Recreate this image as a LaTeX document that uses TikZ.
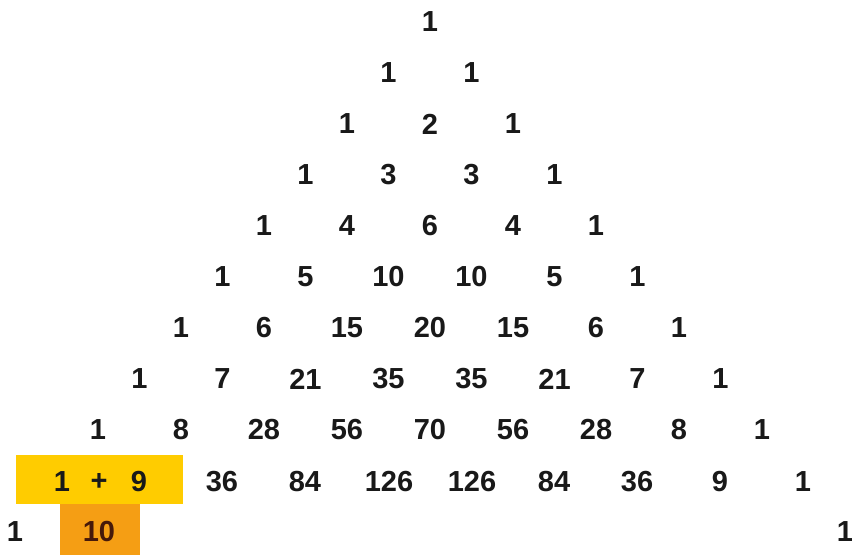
\documentclass[tikz,border=0pt]{standalone}
\usepackage{fontspec}
\setmainfont{Liberation Sans}
\definecolor{boxyellow}{RGB}{255,204,0}
\definecolor{boxorange}{RGB}{245,158,20}
\definecolor{darktext}{RGB}{70,25,10}
\begin{document}
\begin{tikzpicture}[x=1pt,y=-1pt,
  num/.style={font=\fontsize{29}{34}\selectfont\bfseries, text=black!90, inner sep=0pt}]
\useasboundingbox (0,0) rectangle (852,555);
\fill[white] (0,0) rectangle (852,555);
% highlight boxes
\fill[boxyellow] (16,455) rectangle (183,504);
\fill[boxorange] (60,504) rectangle (140,555);
% rows 0..8
\foreach \r/\vals in {0/{1},1/{1,1},2/{1,2,1},3/{1,3,3,1},4/{1,4,6,4,1},
  5/{1,5,10,10,5,1},6/{1,6,15,20,15,6,1},7/{1,7,21,35,35,21,7,1},
  8/{1,8,28,56,70,56,28,8,1}}{
  \foreach \v [count=\c from 0] in \vals{
    \node[num] (n-\r-\c) at ({430+(2*\c-\r)*41.5},{22+\r*51}) {\v};
  }
}
% row 9
\node[num] (n-9-0) at (62,482) {1};
\node[num] (plus) at (99,482) {+};
\node[num] (n-9-1) at (139,482) {9};
\node[num] (n-9-2) at (222,482) {36};
\node[num] (n-9-3) at (305,482) {84};
\node[num] (n-9-4) at (389,482) {126};
\node[num] (n-9-5) at (472,482) {126};
\node[num] (n-9-6) at (554,482) {84};
\node[num] (n-9-7) at (637,482) {36};
\node[num] (n-9-8) at (720,482) {9};
\node[num] (n-9-9) at (803,482) {1};
% row 10
\node[num] (n-10-0) at (15,532) {1};
\node[num, text=darktext] (n-10-1) at (99,532) {10};
\node[num] (n-10-10) at (845,532) {1};
\end{tikzpicture}
\end{document}
